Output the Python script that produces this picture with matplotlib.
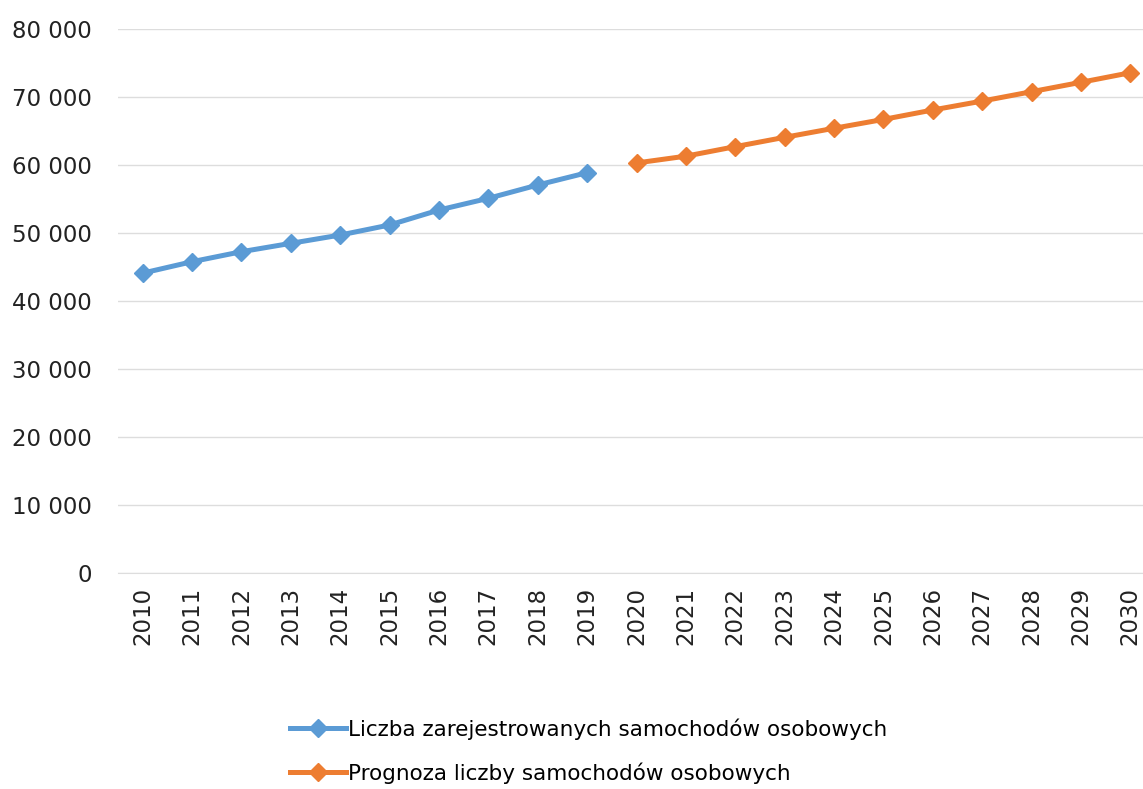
import numpy as np
import matplotlib.pyplot as plt
from matplotlib.ticker import FuncFormatter

years = [str(y) for y in range(2010, 2031)]
registered = [44100, 45780, 47250, 48480, 49700, 51180, 53380, 55100, 57060, 58870]
forecast = [60300, 61300, 62700, 64070, 65400, 66700, 68090, 69400, 70780, 72160, 73570]

blue = "#5B9BD5"
orange = "#ED7D31"

plt.rcParams["font.family"] = ["DejaVu Sans"]

fig = plt.figure(figsize=(11.43, 7.89), dpi=100)
ax = fig.add_axes([118 / 1143, 1 - 573 / 789, (1155 - 118) / 1143, (573 - 29) / 789])

x = np.arange(len(years))
ax.plot(x[:len(registered)], registered, "-D", color=blue, lw=3.6, ms=9,
        label="Liczba zarejestrowanych samochodów osobowych")
ax.plot(x[len(registered):], forecast, "-D", color=orange, lw=3.6, ms=9,
        label="Prognoza liczby samochodów osobowych")

ax.set_xlim(-0.5, len(years) - 0.5)
ax.set_ylim(0, 80000)
ax.set_yticks(np.arange(0, 80001, 10000))
ax.yaxis.set_major_formatter(FuncFormatter(lambda v, p: f"{int(v):,}".replace(",", " ")))
ax.set_xticks(x)
ax.set_xticklabels(years, rotation=90)

ax.grid(axis="y", color="#DDDDDD", lw=1)
ax.set_axisbelow(True)
for s in ["top", "right", "left"]:
    ax.spines[s].set_visible(False)
ax.spines["bottom"].set_color("#DDDDDD")
ax.tick_params(length=0, labelsize=16.5, colors="#222222")
ax.tick_params(axis="y", pad=19)
ax.tick_params(axis="x", pad=10)

fig.legend(loc="upper left", bbox_to_anchor=(290 / 1143, 1 - 718 / 789), frameon=False,
           fontsize=15.5, handlelength=2.6, handletextpad=0.1, labelspacing=1.05,
           borderaxespad=0, borderpad=0)

fig.savefig("out.png", dpi=100)
